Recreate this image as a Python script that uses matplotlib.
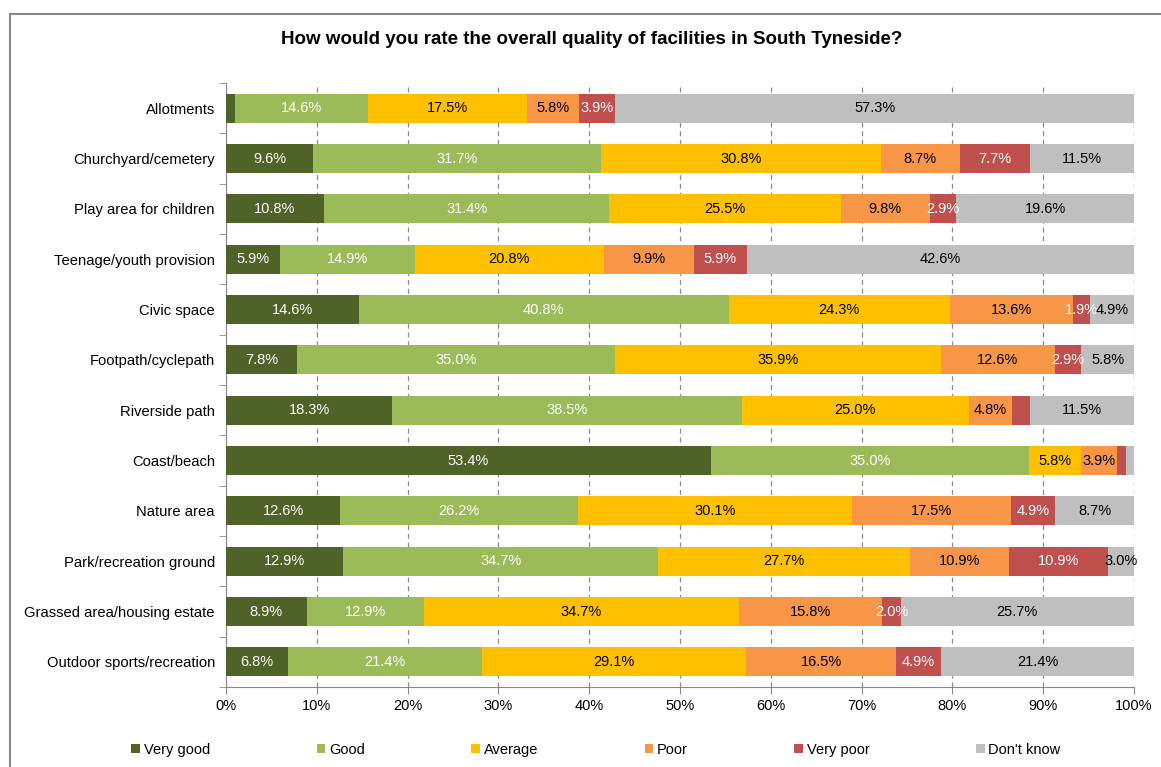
import matplotlib.pyplot as plt
from matplotlib.patches import Rectangle
import numpy as np

plt.rcParams['font.family'] = ['Liberation Sans', 'DejaVu Sans']

facilities = ["Allotments", "Churchyard/cemetery", "Play area for children",
              "Teenage/youth provision", "Civic space", "Footpath/cyclepath",
              "Riverside path", "Coast/beach", "Nature area",
              "Park/recreation ground", "Grassed area/housing estate",
              "Outdoor sports/recreation"]

very_good = [1.0, 9.6, 10.8, 5.9, 14.6, 7.8, 18.3, 53.4, 12.6, 12.9, 8.9, 6.8]
good = [14.6, 31.7, 31.4, 14.9, 40.8, 35.0, 38.5, 35.0, 26.2, 34.7, 12.9, 21.4]
average = [17.5, 30.8, 25.5, 20.8, 24.3, 35.9, 25.0, 5.8, 30.1, 27.7, 34.7, 29.1]
poor = [5.8, 8.7, 9.8, 9.9, 13.6, 12.6, 4.8, 3.9, 17.5, 10.9, 15.8, 16.5]
very_poor = [3.9, 7.7, 2.9, 5.9, 1.9, 2.9, 1.9, 1.0, 4.9, 10.9, 2.0, 4.9]
dont_know = [57.3, 11.5, 19.6, 42.6, 4.9, 5.8, 11.5, 0.9, 8.7, 3.0, 25.7, 21.4]

series_names = ["Very good", "Good", "Average", "Poor", "Very poor", "Don't know"]
colors = ["#4F6228", "#9BBB59", "#FFC000", "#F79646", "#C0504D", "#BFBFBF"]
text_colors = ["white", "white", "black", "black", "white", "black"]
# segments whose label is not shown in the original
hidden = {(0, 0), (7, 4), (7, 5), (6, 4)}

fig = plt.figure(figsize=(11.61, 7.67), dpi=100)
ax = fig.add_axes([226 / 1161, 1 - 687 / 767, 908 / 1161, 604 / 767])

y = np.arange(len(facilities))
left = np.zeros(len(facilities))
data = [very_good, good, average, poor, very_poor, dont_know]
for s, vals in enumerate(data):
    vals = np.array(vals)
    ax.barh(y, vals, left=left, height=0.58, color=colors[s],
            label=series_names[s], zorder=3)
    for i, v in enumerate(vals):
        if (i, s) in hidden:
            continue
        ax.text(left[i] + v / 2, y[i], f"{v:.1f}%", ha='center', va='center',
                color=text_colors[s], fontsize=10.5, zorder=4)
    left += vals

ax.set_xlim(0, 100)
ax.set_ylim(len(facilities) - 0.5, -0.5)
ax.set_xticks(np.arange(0, 101, 10))
ax.set_xticklabels([f"{t}%" for t in range(0, 101, 10)], fontsize=10.5)
ax.set_yticks(y)
ax.set_yticklabels(facilities, fontsize=10.6)
ax.set_yticks(np.arange(-0.5, len(facilities), 1), minor=True)
ax.tick_params(axis='y', which='major', length=0, pad=8)
ax.tick_params(axis='y', which='minor', length=5, color='#888888')
ax.tick_params(axis='x', length=5, color='#888888', pad=4)
ax.grid(axis='x', linestyle=(0, (4, 3)), color='#8c8c8c', linewidth=0.9, zorder=0)
for side in ['top', 'right']:
    ax.spines[side].set_visible(False)
for side in ['left', 'bottom']:
    ax.spines[side].set_color('#888888')

fig.text(592 / 1161, 1 - 40 / 767, "How would you rate the overall quality of facilities in South Tyneside?",
         ha='center', va='center', fontsize=13.5, fontweight='bold')

fig.legend(loc='center', bbox_to_anchor=(596 / 1161, 1 - 750 / 767), ncol=6,
           frameon=False, fontsize=10.5, handlelength=0.6, handleheight=0.6,
           handletextpad=0.25, columnspacing=7.3)

fig.add_artist(Rectangle((9.5 / 1161, -0.1), 1.2, 1.1 - 13.5 / 767,
                         transform=fig.transFigure, fill=False,
                         edgecolor='#878787', linewidth=1.5))

fig.savefig("out.png", dpi=100)
